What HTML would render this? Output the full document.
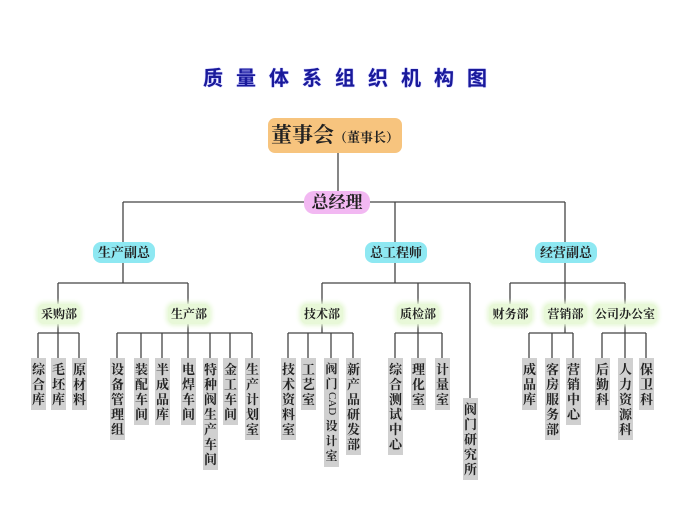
<!DOCTYPE html>
<html><head><meta charset="utf-8"><style>
body{margin:0;width:690px;height:512px;background:#fff;position:relative;overflow:hidden;font-family:"Liberation Serif","Noto Serif CJK SC",serif;}
.a{position:absolute;box-sizing:border-box;text-align:center;white-space:nowrap;}
.t{left:0;width:690px;top:62px;font:bold 20px "Noto Sans CJK SC",sans-serif;color:#1a1a9a;letter-spacing:13px;text-indent:13px;text-shadow:0 0 1px #66f;}
.b1{left:268px;top:118px;width:134px;height:35px;background:#f7c47e;border-radius:7px;font-size:21px;font-weight:bold;line-height:35px;color:#222;}
.b1 span{font-size:13px;}
.b2{left:304px;top:191px;width:66px;height:23px;background:#f2b8f2;border-radius:10px;font-size:17px;font-weight:bold;line-height:23px;color:#222;}
.c{top:242px;height:21px;width:62px;background:#8ee8f2;border-radius:8px;font-size:13px;font-weight:bold;line-height:21px;color:#222;}
.g{top:304px;height:20px;background:#e8f8d8;box-shadow:0 0 4px 2px #e8f8d8;border-radius:6px;font-size:12px;line-height:20px;color:#222;font-weight:bold;}
.l{top:358px;width:15px;background:#d0d0d0;font-size:13px;line-height:15px;padding:4px 0 3px;color:#222;font-weight:bold;white-space:normal;}
</style></head><body>
<svg class="a" style="left:0;top:0" width="690" height="512" stroke="#444" stroke-width="1.3" fill="none">
<path d="M338 153V191M123 202H304M370 202H565M123 202V242M395 202V242M565 202V242"/>
<path d="M123 263V283M58 283H188M58 283V304M188 283V304"/>
<path d="M395 263V283M322 283H470M322 283V304M418 283V304M470 283V398"/>
<path d="M565 263V283M510 283H625M510 283V304M565 283V304M625 283V304"/>
<path d="M58 324V333M38 333H79M38 333V358M58 333V358M79 333V358"/>
<path d="M188 324V333M117 333H252M117 333V358M141 333V358M162 333V358M188 333V358M210 333V358M230 333V358M252 333V358"/>
<path d="M322 324V333M288 333H353M288 333V358M308 333V358M331 333V358M353 333V358"/>
<path d="M418 324V333M395 333H442M395 333V358M418 333V358M442 333V358"/>
<path d="M565 324V333M529 333H573M529 333V358M552 333V358M573 333V358"/>
<path d="M625 324V333M602 333H646M602 333V358M625 333V358M646 333V358"/>
</svg>
<div class="a t">质量体系组织机构图</div>
<div class="a b1">董事会<span>（董事长）</span></div>
<div class="a b2">总经理</div>
<div class="a c" style="left:93px">生产副总</div>
<div class="a c" style="left:365px">总工程师</div>
<div class="a c" style="left:535px">经营副总</div>
<div class="a g" style="left:38px;width:42px">采购部</div>
<div class="a g" style="left:168px;width:42px">生产部</div>
<div class="a g" style="left:301px;width:42px">技术部</div>
<div class="a g" style="left:397px;width:42px">质检部</div>
<div class="a g" style="left:489px;width:43px">财务部</div>
<div class="a g" style="left:544px;width:43px">营销部</div>
<div class="a g" style="left:593px;width:64px">公司办公室</div>
<div class="a l" style="left:31px">综合库</div>
<div class="a l" style="left:51px">毛坯库</div>
<div class="a l" style="left:72px">原材料</div>
<div class="a l" style="left:110px">设备管理组</div>
<div class="a l" style="left:134px">装配车间</div>
<div class="a l" style="left:155px">半成品库</div>
<div class="a l" style="left:181px">电焊车间</div>
<div class="a l" style="left:203px">特种阀生产车间</div>
<div class="a l" style="left:223px">金工车间</div>
<div class="a l" style="left:245px">生产计划室</div>
<div class="a l" style="left:281px">技术资料室</div>
<div class="a l" style="left:301px">工艺室</div>
<div class="a l" style="left:324px;font-size:12px">阀门<span style="writing-mode:vertical-rl;font-size:11px;font-weight:normal">CAD</span>设计室</div>
<div class="a l" style="left:346px">新产品研发部</div>
<div class="a l" style="left:388px">综合测试中心</div>
<div class="a l" style="left:411px">理化室</div>
<div class="a l" style="left:435px">计量室</div>
<div class="a l" style="left:463px;top:398px">阀门研究所</div>
<div class="a l" style="left:522px">成品库</div>
<div class="a l" style="left:545px">客房服务部</div>
<div class="a l" style="left:566px">营销中心</div>
<div class="a l" style="left:595px">后勤科</div>
<div class="a l" style="left:618px">人力资源科</div>
<div class="a l" style="left:639px">保卫科</div>
</body></html>
